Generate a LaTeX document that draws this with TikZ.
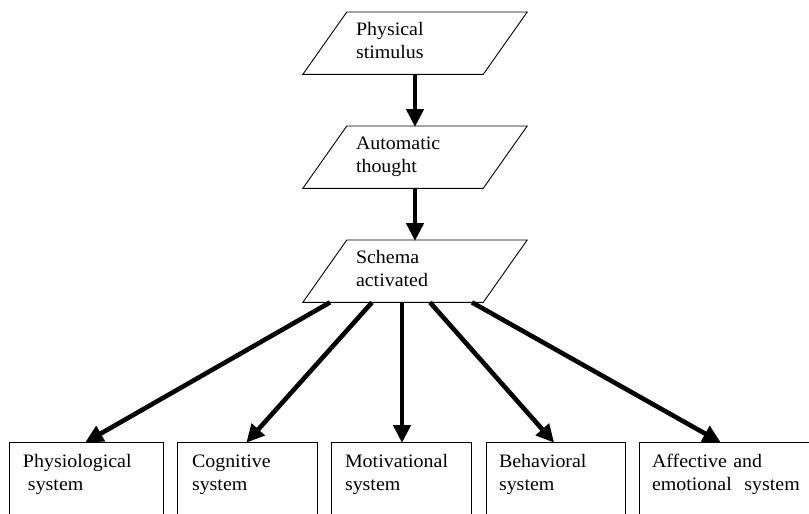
\documentclass[tikz,border=0pt]{standalone}
\usepackage{fontspec}
\setmainfont{Liberation Serif}[FakeStretch=1.05]
\usetikzlibrary{arrows.meta}
\begin{document}
\begin{tikzpicture}[x=1pt,y=-1pt,
  txt/.style={font=\fontsize{19}{22.5}\selectfont, align=left},
  para/.style={txt, anchor=north, inner xsep=53pt, text width=118pt,
    inner ysep=10.7pt, text height=13pt, text depth=27.6pt},
  paraline/.style={line width=0.9pt},
  sysbox/.style={txt, anchor=north, draw, line width=0.9pt,
    inner ysep=12.3pt, text height=13pt, text depth=70pt},
  bigarrow/.style={line width=4.6pt, -{Triangle[length=18pt,width=17pt]}, shorten >=-1pt}
]
\useasboundingbox (0,0) rectangle (809,514);
\clip (0,0) rectangle (809,514);

% parallelogram nodes
\node[para] (p1) at (415,12)  {Physical\\stimulus};
\node[para] (p2) at (415,126) {Automatic\\thought};
\node[para] (p3) at (415,240) {Schema\\activated};
\foreach \n in {p1,p2,p3}{
  \draw[paraline] ([xshift=44pt]\n.north west) -- (\n.north east)
    -- ([xshift=-44pt]\n.south east) -- (\n.south west) -- cycle;
}

% system boxes
\node[sysbox, minimum width=154pt, inner xsep=14pt, text width=126pt] (b1) at (86,442)
  {Physiological\\\hspace*{5pt}system};
\node[sysbox, minimum width=140pt, inner xsep=15pt, text width=110pt] (b2) at (247,442)
  {Cognitive\\system};
\node[sysbox, minimum width=140pt, inner xsep=14pt, text width=112pt] (b3) at (401,442)
  {Motivational\\system};
\node[sysbox, minimum width=139pt, inner xsep=13pt, text width=113pt] (b4) at (555.5,442)
  {Behavioral\\system};
\node[sysbox, minimum width=180pt, inner xsep=13pt, text width=154pt] (b5) at (729,442)
  {Affective and\\emotional\ \ system};

% connectors
\draw[bigarrow] (p1.south) -- (p2.north);
\draw[bigarrow] (p2.south) -- (p3.north);
\draw[bigarrow] ([xshift=-85pt]p3.south) -- (b1.north);
\draw[bigarrow] ([xshift=-43pt]p3.south) -- (b2.north);
\draw[bigarrow] ([xshift=-13pt]p3.south) -- ([xshift=1pt]b3.north);
\draw[bigarrow] ([xshift=15pt]p3.south) -- ([xshift=-2pt]b4.north);
\draw[bigarrow] ([xshift=57pt]p3.south) -- ([xshift=-9pt]b5.north);
\end{tikzpicture}
\end{document}
